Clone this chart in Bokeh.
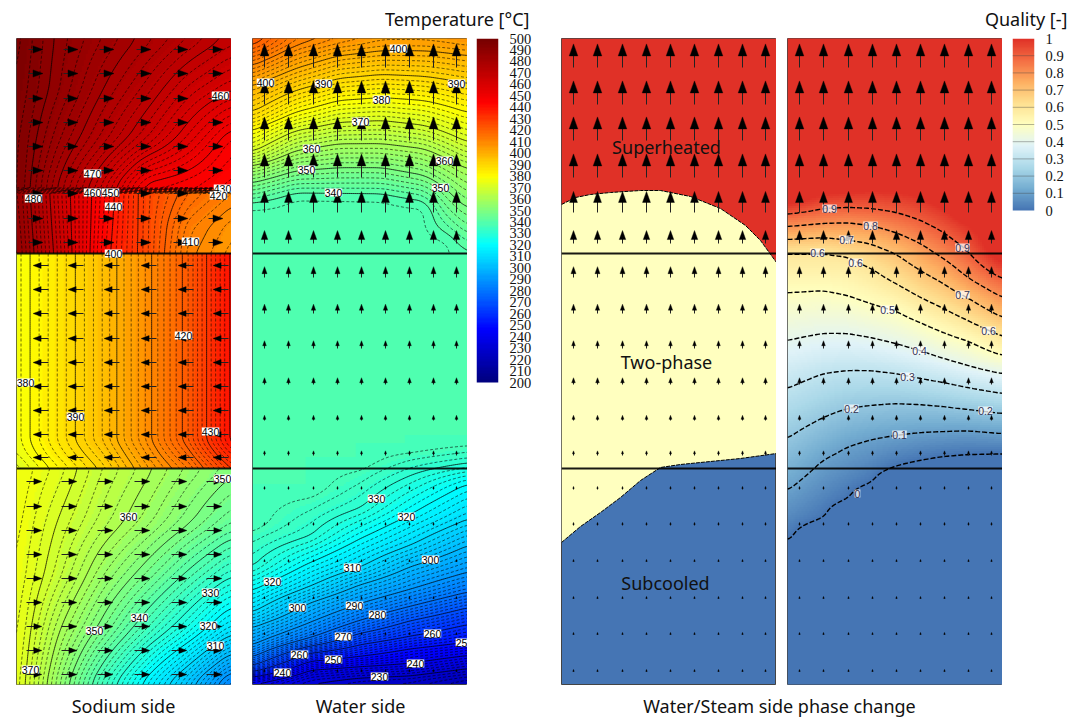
import numpy as np
from bokeh.embed import file_html
from bokeh.layouts import column, row
from bokeh.models import FixedTicker, LinearColorMapper, Range1d
from bokeh.plotting import figure
from bokeh.resources import INLINE
from bokeh.core.properties import value

# ---------- colour scales ----------
TEMP_STOPS = [200, 245, 320, 380, 445, 500]
TEMP_COLORS = [(0, 0, 128), (0, 0, 255), (0, 255, 255), (255, 255, 0), (255, 0, 0), (120, 0, 0)]
QUAL_STOPS = [0, .125, .25, .375, .5, .625, .75, .875, 1]
QUAL_COLORS = [(69, 117, 180), (116, 173, 209), (171, 217, 233), (224, 243, 248), (255, 255, 191),
               (254, 224, 144), (253, 174, 97), (244, 109, 67), (224, 49, 39)]
TEMP_TICKS = list(range(200, 501, 10))
QUAL_TICKS = [0, .1, .2, .3, .4, .5, .6, .7, .8, .9, 1]
SECTION_ROWS = [253, 468]

# ---------- sodium side temperature, read at grid columns / rows ----------
NA_COLS = [16, 59, 102, 145, 188, 231]
NA_UP_ROWS = [38, 90, 140, 187]
NA_UP = [[497, 489, 484, 479, 474, 469],
         [496, 488, 480, 473, 465, 460],
         [495, 484, 475, 466, 457, 447],
         [495, 479, 465, 448, 446, 443]]
NA_LOW_ROWS = [193, 225, 253]
NA_LOW = [[487, 465, 445, 427, 418, 412],
          [488, 466, 444, 427, 413, 407],
          [489, 467, 443, 427, 411, 405]]
NA_MID_ROWS = [253, 440, 452, 468]
NA_MID = [[377, 386.5, 396, 408, 422, 441],
          [377, 386.5, 396, 408, 422, 441],
          [376, 385, 394, 406, 419, 437],
          [373, 382, 391, 403, 414, 430]]
NA_BOT_ROWS = [468, 522, 576, 630, 684]
NA_BOT = [[378, 373, 366, 361, 355.5, 351],
          [377, 369.5, 363, 357, 350.5, 344],
          [376, 366.5, 356, 347.5, 338.5, 330],
          [375, 360, 348, 336, 325, 312],
          [374, 354, 335, 318, 302, 283]]

# ---------- water side: where each isotherm crosses each column ----------
W_TOP_COLS = [252, 295, 338, 381, 424, 445, 467]
W_TOP_LEVELS = [430, 420, 410, 400, 390, 380, 370, 360, 350, 340, 337.5]
W_TOP_POS = [[25, 0, -15, -20, -20, -18, -15],
             [45, 22, 12, 5, 5, 6, 8],
             [65, 45, 35, 27, 27, 28, 30],
             [85, 68, 55, 50, 50, 52, 55],
             [112, 90, 78, 74, 76, 79, 83],
             [130, 112, 100, 97, 100, 105, 112],
             [152, 130, 122, 120, 125, 132, 142],
             [165, 150, 143, 143, 148, 157, 168],
             [182, 170, 167, 167, 175, 188, 208],
             [202, 192, 193, 193, 200, 232, 250],
             [208, 198, 198, 200, 208, 240, 258]]
W_BOT_COLS = [252, 310, 360, 410, 467]
W_BOT_LEVELS = [337.5, 336, 330, 320, 310, 300, 290, 280, 270, 260, 250, 240, 230, 220, 205]
W_BOT_POS = [[525, 490, 462, 448, 440],
             [530, 497, 470, 452, 446],
             [567, 536, 508, 475, 463],
             [590, 562, 538, 514, 483],
             [612, 586, 567, 545, 519],
             [627, 602, 584, 566, 545],
             [645, 622, 603, 589, 572],
             [657, 638, 620, 606, 592],
             [665, 646, 633, 620, 607],
             [672, 652, 644, 636, 624],
             [676, 661, 656, 648, 642],
             [682, 669, 666, 663, 655],
             [692, 682, 677, 675, 668],
             [705, 695, 692, 690, 682],
             [725, 715, 712, 710, 700]]

# ---------- steam quality: where each iso-quality crosses each column ----------
Q_COLS = [787, 823, 847, 870, 895, 920, 943, 967, 1002]
Q_LEVELS = [1.0, .9, .8, .7, .6, .5, .4, .3, .2, .1, 0.0]
Q_POS = [[204, 193, 191, 190, 190, 195, 206, 223, 262],
         [213, 208, 207, 208, 212, 220, 232, 250, 278],
         [226, 223, 222, 225, 232, 243, 258, 277, 297],
         [239, 237, 240, 243, 253, 270, 283, 297, 317],
         [252, 252, 255, 267, 283, 297, 308, 320, 336],
         [292, 290, 295, 303, 310, 322, 332, 340, 355],
         [340, 333, 333, 337, 343, 350, 358, 365, 373],
         [388, 373, 370, 370, 373, 378, 382, 387, 393],
         [438, 417, 408, 405, 403, 404, 406, 409, 413],
         [490, 459, 446, 439, 435, 432, 431, 430, 433],
         [542, 519, 500, 484, 467, 461, 457, 455, 454]]

# ---------- phase map boundaries ----------
SUPER_X = [561, 575, 590, 610, 640, 660, 690, 720, 745, 760, 776]
SUPER_Y = [204, 197, 194, 192, 190, 190, 196, 208, 225, 240, 262]
SUB_X = [561, 580, 600, 620, 640, 660, 680, 700, 720, 740, 776]
SUB_Y = [542, 526, 512, 497, 480, 467, 464, 462, 460, 458, 453]

# ---------- vectors ----------
NA_ARROW_X = [37, 72, 108, 145, 182, 217]
NA_ARROW_ROWS = [[49, 73, 98, 122, 146, 170, 193, 218, 242],
                 [265, 289, 313, 338, 362, 386, 410, 434, 457],
                 [481, 506, 530, 554, 578, 602, 626, 650, 674]]
NA_ARROW_DIR = [1, -1, 1]
NA_ARROW_LEN = [9, 11, 11]
NA_ARROW_HEAD = [10, 8, 8]
W_ARROW_X = [12, 36, 61, 85, 109, 133, 157, 181, 204]
W_ARROW_ROWS = [50, 87, 123, 160, 197, 235, 270, 307, 343, 380, 417, 452, 487, 523, 560, 597, 633, 670]
W_ARROW_LEN = [17, 17, 17, 17, 15, 8, 7, 6, 5, 4, 3, 3, 2, 2, 1, 1, 1, 1]
W_ARROW_HEAD = [12, 12, 12, 12, 11, 9, 7, 6, 5, 5, 4, 3, 2, 2, 2, 2, 2, 2]

# ---------- labels ----------
NA_LABELS = [("480", 33, 198), ("470", 92, 173), ("460", 220, 95), ("460", 92, 192), ("450", 110, 192),
             ("440", 113, 206), ("430", 222, 188), ("420", 218, 195), ("410", 190, 241), ("400", 113, 253),
             ("420", 183, 335), ("380", 25, 382), ("390", 75, 416), ("430", 210, 431), ("350", 222, 478),
             ("360", 128, 516), ("340", 139, 617), ("350", 94, 630), ("330", 210, 592), ("320", 208, 625),
             ("310", 215, 645), ("370", 30, 669)]
W_LABELS = [("400", 398, 48), ("400", 265, 82), ("390", 323, 83), ("390", 456, 83), ("380", 381, 99),
            ("370", 360, 121), ("360", 311, 148), ("360", 444, 160), ("350", 306, 169), ("350", 440, 187),
            ("340", 333, 192), ("330", 376, 498), ("320", 406, 516), ("320", 272, 581), ("310", 352, 567),
            ("300", 430, 559), ("300", 297, 607), ("290", 354, 605), ("280", 377, 614), ("270", 343, 636),
            ("260", 299, 654), ("260", 432, 633), ("250", 333, 659), ("25", 461, 642), ("240", 282, 672),
            ("240", 415, 663), ("230", 379, 676)]
Q_LABELS = [("0.9", 829, 208), ("0.8", 870, 225), ("0.7", 846, 239), ("0.6", 817, 252), ("0.6", 855, 262),
            ("0.9", 962, 247), ("0.7", 962, 294), ("0.5", 887, 309), ("0.6", 988, 330), ("0.4", 919, 350),
            ("0.3", 907, 376), ("0.2", 851, 408), ("0.2", 985, 410), ("0.1", 899, 434), ("0", 857, 493)]
PHASE_LABELS = [("Superheated", 666, 146), ("Two-phase", 666, 361), ("Subcooled", 665, 582)]

FONT = "Noto Sans"
H0 = 684  # grid row that the plots use as height zero
FRAME_H = 646
CB1_ROWS = 344  # rows that the temperature scale spans
CB2_ROWS = 172  # rows that the quality scale spans


def palette(stops, colors, n):
    t = np.linspace(stops[0], stops[-1], n)
    arr = np.array(colors, float)
    return ["#%02x%02x%02x" % tuple(int(round(np.interp(v, stops, arr[:, k]))) for k in range(3)) for v in t]


TEMP_MAP = LinearColorMapper(palette=palette(TEMP_STOPS, TEMP_COLORS, 120), low=200, high=500)
QUAL_MAP = LinearColorMapper(palette=palette(QUAL_STOPS, QUAL_COLORS, 200), low=0, high=1)


def smooth(z, k):
    if k < 2:
        return z
    w = np.ones(k) / k
    pad = k
    z = np.pad(z, pad, mode="edge")
    z = np.apply_along_axis(lambda a: np.convolve(a, w, "same"), 0, z)
    z = np.apply_along_axis(lambda a: np.convolve(a, w, "same"), 1, z)
    return z[pad:-pad, pad:-pad]


def refine_grid(cols, rows, grid, k=9):
    g = np.array(grid, float)
    fx = np.arange(cols[0], cols[-1] + .01, 2.0)
    fx = np.append(fx, cols[-1]) if fx[-1] < cols[-1] else fx
    fr = np.arange(rows[0], rows[-1] + .01, 2.0)
    fr = np.append(fr, rows[-1]) if fr[-1] < rows[-1] else fr
    a = np.array([np.interp(fx, cols, r) for r in g])
    b = np.array([np.interp(fr, rows, c) for c in a.T]).T
    return fx, fr, smooth(b, k)


def refine_table(cols, levels, pos, r0, r1, k=7):
    p = np.array(pos, float)
    fr = np.arange(r0, r1 + .01, 2.0)
    colz = np.array([np.interp(fr, p[:, j], levels) for j in range(len(cols))]).T
    fx = np.arange(cols[0], cols[-1] + .01, 2.0)
    fx = np.append(fx, cols[-1]) if fx[-1] < cols[-1] else fx
    z = np.array([np.interp(fx, cols, r) for r in colz])
    return fx, fr, smooth(z, k)


def new_panel(x0, left, width):
    p = figure(width=width, height=654, x_range=Range1d(x0, x0 + 215), y_range=Range1d(0, FRAME_H),
               x_axis_location=None, y_axis_location=None, toolbar_location=None, output_backend="svg",
               min_border_left=left, min_border_right=0, min_border_top=7, min_border_bottom=1)
    p.grid.visible = False
    p.outline_line_color = "#444444"
    p.outline_line_width = 1
    return p


def draw_field(p, fx, fr, z, mapper):
    y = H0 - fr[::-1]
    zz = z[::-1]
    # half a unit of overlap so that neighbouring bands leave no seam
    p.image(image=[zz], x=float(fx[0]), y=float(y[0]) - .5, dw=float(fx[-1] - fx[0]) + .5,
            dh=float(y[-1] - y[0]) + 1, color_mapper=mapper)
    return (fx, y, zz)


def draw_lines(p, item, solid, dashed, solid_w=1.0, dash="3 2"):
    fx, y, zz = item
    lo, hi = np.nanmin(zz), np.nanmax(zz)
    s = [v for v in solid if lo < v < hi]
    d = [v for v in dashed if lo < v < hi]
    if len(s) >= 1:
        p.contour(fx, y, zz, s, line_color="black", line_alpha=.75, line_width=solid_w)
    if len(d) >= 1:
        p.contour(fx, y, zz, d, line_color="black", line_alpha=.65, line_width=.9, line_dash=dash)


def draw_section_lines(p, x0):
    for r in SECTION_ROWS:
        p.line([x0, x0 + 215], [H0 - r, H0 - r], line_color="black", line_alpha=.9, line_width=2)


def draw_arrows(p, xs, ys, dxs, dys, heads):
    """Each arrow: head centred on (x, y), tail at (x - dx, y - dy); head is narrow along the direction."""
    x = np.array(xs, float)
    y = H0 - np.array(ys, float)
    dx = np.array(dxs, float)
    dy = np.array(dys, float)
    h = np.array(heads, float)
    n = np.hypot(dx, dy)
    ux, uy = dx / n, dy / n
    p.segment(x, y, x - dx, y - dy, line_color="#222222", line_width=1)
    tipx, tipy = x + ux * h * .55, y + uy * h * .55
    bx, by = x - ux * h * .45, y - uy * h * .45
    w = h * .36
    p.patches([[a, b - uy_ * c, b + uy_ * c] for a, b, uy_, c in zip(tipx, bx, uy, w)],
              [[a, b + ux_ * c, b - ux_ * c] for a, b, ux_, c in zip(tipy, by, ux, w)],
              fill_color="black", line_color="black", line_width=.4)


def water_arrows(p, x0):
    xs, ys, ls, hs = [], [], [], []
    for r, l, h in zip(W_ARROW_ROWS, W_ARROW_LEN, W_ARROW_HEAD):
        for c in W_ARROW_X:
            xs.append(x0 + c); ys.append(r); ls.append(l); hs.append(h)
    draw_arrows(p, xs, ys, [0] * len(xs), ls, hs)


def sodium_arrows(p):
    xs, ys, dx, hs = [], [], [], []
    for rows, d, l, h in zip(NA_ARROW_ROWS, NA_ARROW_DIR, NA_ARROW_LEN, NA_ARROW_HEAD):
        for r in rows:
            for c in NA_ARROW_X:
                xs.append(c); ys.append(r); dx.append(d * l); hs.append(h)
    draw_arrows(p, xs, ys, dx, [0] * len(xs), hs)


def draw_labels(p, labels, color="black", alpha=1.0):
    t = [a[0] for a in labels]
    x = [a[1] for a in labels]
    y = [H0 - a[2] for a in labels]
    p.text(x, y, text=t, text_font=value("Liberation Sans"), text_font_size="10.5px", text_color=color,
           text_align="center", text_baseline="middle", background_fill_color="white",
           background_fill_alpha=alpha)


def solid_levels():
    return list(range(200, 501, 10))


def dashed_levels():
    return [v for v in range(200, 500, 2) if v % 10]


# ---------- sodium panel ----------
p1 = new_panel(16, 16, 231)
na_sections = [refine_grid(NA_COLS, NA_UP_ROWS, NA_UP, 11),
               refine_grid(NA_COLS, [187, 193], [NA_UP[-1], NA_LOW[0]], 1),
               refine_grid(NA_COLS, NA_LOW_ROWS, NA_LOW, 7),
               refine_grid(NA_COLS, NA_MID_ROWS, NA_MID, 5),
               refine_grid(NA_COLS, NA_BOT_ROWS, NA_BOT, 11)]
items = [draw_field(p1, *s, TEMP_MAP) for s in na_sections]
for it in items:
    draw_lines(p1, it, solid_levels(), dashed_levels())
draw_section_lines(p1, 16)
sodium_arrows(p1)
draw_labels(p1, NA_LABELS)

# ---------- water panel ----------
p2 = new_panel(252, 21, 236)
w_sections = [refine_table(W_TOP_COLS, W_TOP_LEVELS, W_TOP_POS, 38, 253, k=9),
              refine_table(W_BOT_COLS, W_BOT_LEVELS, W_BOT_POS, 253, 684)]
items = [draw_field(p2, *s, TEMP_MAP) for s in w_sections]
for it in items:
    draw_lines(p2, it, solid_levels(), dashed_levels())
draw_section_lines(p2, 252)
water_arrows(p2, 252)
draw_labels(p2, W_LABELS)


# ---------- colour scales ----------
def scale_fig(width, left, right, rows_used, low, high, mapper, ticks):
    bottom = high - (high - low) * FRAME_H / rows_used
    c = figure(width=width, height=654, x_range=Range1d(0, 1), y_range=Range1d(bottom, high),
               x_axis_location=None, y_axis_location="right", toolbar_location=None, output_backend="svg",
               min_border_left=left, min_border_right=right, min_border_top=7, min_border_bottom=1)
    c.grid.visible = False
    c.outline_line_color = None
    g = np.linspace(low, high, 400).reshape(-1, 1)
    c.image(image=[g], x=0, y=low, dw=1, dh=high - low, color_mapper=mapper)
    ax = c.yaxis[0]
    ax.ticker = FixedTicker(ticks=ticks)
    ax.axis_line_color = None
    ax.major_tick_line_color = None
    ax.minor_tick_line_color = None
    ax.major_label_standoff = 5
    ax.major_label_text_font = "Liberation Serif"
    ax.major_label_text_font_size = "14.5px"
    ax.major_label_text_color = "#111111"
    return c


cb1 = scale_fig(85, 9, 54, CB1_ROWS, 200, 500, TEMP_MAP, TEMP_TICKS)

# ---------- phase panel ----------
p3 = new_panel(561, 9, 224)
p3.background_fill_color = palette(QUAL_STOPS, QUAL_COLORS, 200)[0]
p3.patch(SUPER_X + [776, 561], [H0 - v for v in SUPER_Y] + [FRAME_H, FRAME_H], fill_color="#E03127", line_color=None)
p3.patch(SUPER_X + SUB_X[::-1], [H0 - v for v in SUPER_Y] + [H0 - v for v in SUB_Y[::-1]],
         fill_color="#FFFFBF", line_color=None)
p3.line(SUPER_X, [H0 - v for v in SUPER_Y], line_color="black", line_dash="4 1", line_width=1)
p3.line(SUB_X, [H0 - v for v in SUB_Y], line_color="black", line_dash="4 1", line_width=1)
draw_section_lines(p3, 561)
water_arrows(p3, 561)
p3.text([a[1] for a in PHASE_LABELS], [H0 - a[2] for a in PHASE_LABELS], text=[a[0] for a in PHASE_LABELS],
        text_font=value(FONT), text_font_size="18px", text_color="#111111", text_align="center",
        text_baseline="middle")

# ---------- quality panel ----------
p4 = new_panel(787, 11, 226)
q_pos = [[v - 14 for v in Q_POS[0]]] + Q_POS + [[v + 12 for v in Q_POS[-1]]]
q_lev = [1.08] + Q_LEVELS + [-0.08]
qs = refine_table(Q_COLS, q_lev, q_pos, 38, 684, k=7)
fx, y, zz = draw_field(p4, *qs, QUAL_MAP)
p4.contour(fx, y, zz, [0, .1, .2, .3, .4, .5, .6, .7, .8, .9], line_color="black", line_width=1.4,
           line_dash="5 2")
draw_section_lines(p4, 787)
water_arrows(p4, 787)
draw_labels(p4, Q_LABELS, color="#333355", alpha=.75)

cb2 = scale_fig(72, 10, 40, CB2_ROWS, 0, 1, QUAL_MAP, QUAL_TICKS)
cb2.segment([0] * 9, QUAL_TICKS[1:-1], [1] * 9, QUAL_TICKS[1:-1], line_color="#444444", line_alpha=.4, line_width=1)


# ---------- header and caption strips ----------
def strip(height, y0, y1, texts):
    s = figure(width=1074, height=height, x_range=Range1d(0, 1074), y_range=Range1d(y1, y0),
               x_axis_location=None, y_axis_location=None, toolbar_location=None, output_backend="svg",
               min_border=0, outline_line_color=None)
    s.grid.visible = False
    for t, x, yy, al in texts:
        s.text([x], [yy], text=[t], text_font=value(FONT), text_font_size="18px", text_color="#111111",
               text_align=al, text_baseline="middle")
    return s


head = strip(31, 0, 31, [("Temperature [°C]", 529, 18, "right"), ("Quality [-]", 1067, 18, "right")])
foot = strip(34, 685, 719, [("Sodium side", 123, 705, "center"), ("Water side", 360, 705, "center"),
                            ("Water/Steam side phase change", 779, 705, "center")])

main = row(p1, p2, cb1, p3, p4, cb2, spacing=0)
page = column(head, main, foot, spacing=0)
open("out.html", "w").write(file_html(page, INLINE))
